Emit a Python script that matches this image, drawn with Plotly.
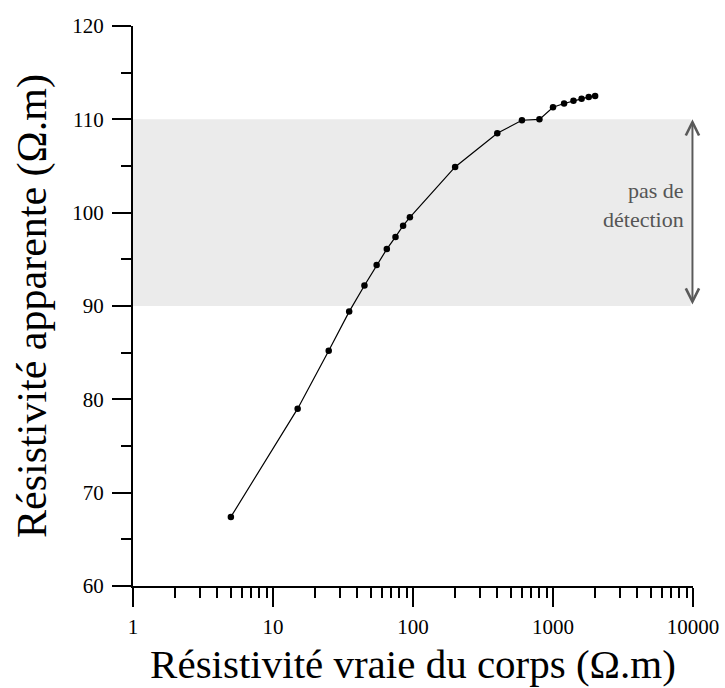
import math
import plotly.graph_objects as go

# Data
true_res = [5, 15, 25, 35, 45, 55, 65, 75, 85, 95, 200, 400, 600, 800,
            1000, 1200, 1400, 1600, 1800, 2000]
apparent_res = [67.4, 79.0, 85.2, 89.4, 92.2, 94.4, 96.1, 97.4, 98.6, 99.5,
                104.9, 108.5, 109.9, 110.0, 111.3, 111.7, 112.0, 112.2, 112.4, 112.5]

x_major = [1, 10, 100, 1000, 10000]
x_major_labels = ["1", "10", "100", "1000", "10000"]
x_minor = [m * d for d in [1, 10, 100, 1000] for m in range(2, 10)]
y_major = [60, 70, 80, 90, 100, 110, 120]
y_minor = [65, 75, 85, 95, 105, 115]

band_low, band_high = 90, 110
band_label = "pas de<br>détection"

FONT = "Liberation Serif"

fig = go.Figure()
fig.add_trace(go.Scatter(
    x=true_res, y=apparent_res, mode="lines+markers",
    line=dict(color="black", width=1.2),
    marker=dict(color="black", size=6.5),
    showlegend=False, hoverinfo="skip",
))

fig.add_shape(type="rect", xref="paper", yref="y", x0=0, x1=0.996,
              y0=band_low, y1=band_high, fillcolor="#ebebeb",
              line=dict(width=0), layer="below")

arrow_x = math.log10(x_major[-1]) - 0.004
fig.add_annotation(x=arrow_x, y=band_high, ax=arrow_x, ay=band_low,
                   xref="x", yref="y", axref="x", ayref="y",
                   text="", showarrow=True, arrowhead=5, arrowside="end+start",
                   arrowsize=1.3, arrowwidth=2, arrowcolor="#5a5a5a")
fig.add_annotation(x=0.988, y=(band_low + band_high) / 2 + 0.8,
                   xref="paper", yref="y", xanchor="right", yanchor="middle",
                   text=band_label, showarrow=False, align="right",
                   font=dict(family=FONT, size=22, color="#555555"))

axis_common = dict(
    showline=True, linecolor="black", linewidth=2,
    ticks="outside", ticklen=19, tickwidth=2, tickcolor="black",
    showgrid=False, zeroline=False, automargin=False,
    tickfont=dict(family=FONT, size=21, color="black"),
)

fig.update_xaxes(
    type="log", range=[0, 4],
    tickmode="array", tickvals=x_major, ticktext=x_major_labels,
    minor=dict(tickmode="array", tickvals=x_minor, ticks="outside",
               ticklen=10, tickwidth=2, tickcolor="black", showgrid=False),
    title=dict(text="Résistivité vraie du corps (Ω.m)",
               font=dict(family=FONT, size=41, color="black"), standoff=11),
    ticklabelstandoff=2,
    **axis_common,
)
fig.update_yaxes(
    range=[60, 120],
    tickmode="array", tickvals=y_major,
    minor=dict(tickmode="array", tickvals=y_minor, ticks="outside",
               ticklen=10, tickwidth=2, tickcolor="black", showgrid=False),
    title=dict(text="Résistivité apparente (Ω.m)",
               font=dict(family=FONT, size=42, color="black"), standoff=13),
    ticklabelstandoff=4,
    **axis_common,
)

fig.update_layout(
    width=725, height=688,
    margin=dict(l=133, r=32, t=26, b=102),
    plot_bgcolor="white", paper_bgcolor="white",
)

fig.write_html("out.html")
